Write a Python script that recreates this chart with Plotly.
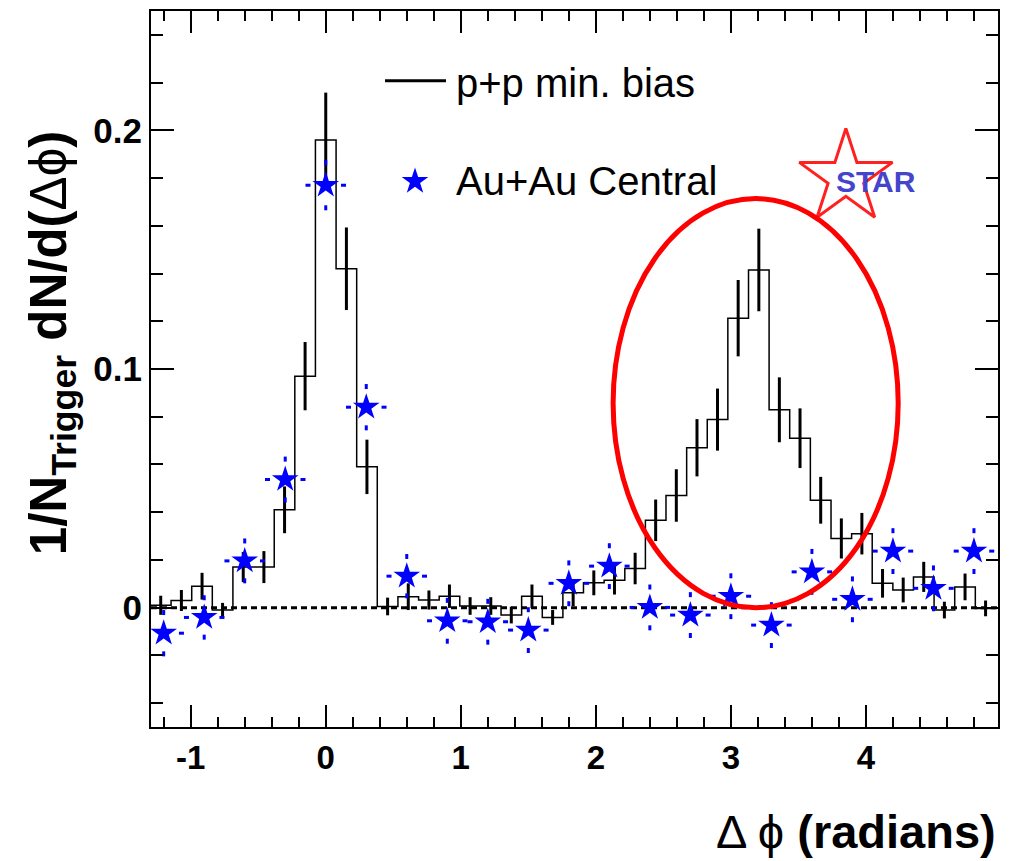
import plotly.graph_objects as go

# p+p minimum-bias azimuthal correlation histogram (bin centres, contents, errors)
BIN_WIDTH = 0.1527
pp_x = [-1.222, -1.069, -0.916, -0.764, -0.611, -0.458, -0.305, -0.153,
        0.000, 0.153, 0.305, 0.458, 0.611, 0.764, 0.916, 1.069, 1.222,
        1.374, 1.527, 1.680, 1.832, 1.985, 2.138, 2.291, 2.443, 2.596,
        2.749, 2.901, 3.054, 3.207, 3.359, 3.512, 3.665, 3.818, 3.970,
        4.123, 4.276, 4.428, 4.581, 4.734, 4.886]
pp_y = [0.001, 0.003, 0.009, -0.001, 0.017, 0.017, 0.041, 0.097,
        0.196, 0.142, 0.059, 0.0005, 0.0046, 0.0032, 0.0048, 0.0007, 0.0007,
        -0.0031, 0.0048, -0.0041, 0.0062, 0.0104, 0.0115, 0.0164, 0.0366, 0.047,
        0.067, 0.0788, 0.1213, 0.1415, 0.0829, 0.071, 0.045, 0.029, 0.031,
        0.0102, 0.0074, 0.0129, -0.001, 0.0087, -0.0003]
pp_err = [0.004, 0.0044, 0.0056, 0.003, 0.0063, 0.0067, 0.0098, 0.0143,
          0.0198, 0.0173, 0.0114, 0.0037, 0.0056, 0.004, 0.0049, 0.0037, 0.0037,
          0.0035, 0.0049, 0.0031, 0.0056, 0.0052, 0.006, 0.0066, 0.0087, 0.011,
          0.012, 0.013, 0.016, 0.0173, 0.0136, 0.0125, 0.0098, 0.0084, 0.0087,
          0.006, 0.0052, 0.0063, 0.0035, 0.0056, 0.0033]

# Au+Au central points
AU_HALF_BIN = 0.15
au_x = [-1.2, -0.9, -0.6, -0.3, 0.0, 0.3, 0.6, 0.9, 1.2, 1.5, 1.8,
        2.1, 2.4, 2.7, 3.0, 3.3, 3.6, 3.9, 4.2, 4.5, 4.8]
au_y = [-0.0107, -0.0041, 0.0196, 0.0537, 0.177, 0.084, 0.0132, -0.0055,
        -0.0059, -0.0094, 0.0102, 0.0174, 0.0001, -0.0031, 0.0048, -0.0073,
        0.015, 0.0035, 0.0237, 0.0081, 0.0237]
au_err = [0.0097, 0.0093, 0.0094, 0.0096, 0.0105, 0.0097, 0.0093, 0.0096,
          0.0096, 0.0096, 0.0096, 0.0096, 0.0096, 0.0096, 0.0096, 0.0096,
          0.0096, 0.0096, 0.0096, 0.0096, 0.0096]

X_RANGE = [-1.294, 4.978]
Y_RANGE = [-0.05, 0.25]
X_TICKS = [-1, 0, 1, 2, 3, 4]
X_TICKTEXT = ["-1", "0", "1", "2", "3", "4"]
Y_TICKS = [0, 0.1, 0.2]

# away-side highlight ellipse (data coordinates)
ELLIPSE = dict(x0=2.128, x1=4.239, y0=0.0, y1=0.1714)

REG = "Liberation Sans, Arial, sans-serif"

fig = go.Figure()

# histogram outline, extended by half a bin at both ends
step_x = [pp_x[0] - BIN_WIDTH / 2] + pp_x + [pp_x[-1] + BIN_WIDTH / 2]
step_y = [pp_y[0]] + pp_y + [pp_y[-1]]
fig.add_trace(go.Scatter(x=step_x, y=step_y, mode="lines", line_shape="hvh",
                         line=dict(color="black", width=1.5),
                         showlegend=False, hoverinfo="skip"))

# p+p statistical errors
fig.add_trace(go.Scatter(x=pp_x, y=pp_y, mode="markers",
                         marker=dict(size=1, color="rgba(0,0,0,0)"),
                         error_y=dict(type="data", array=pp_err, color="black",
                                      thickness=3, width=0),
                         showlegend=False, hoverinfo="skip"))

# dashed Au+Au error bars: each arm runs from its outer end toward the point
ex, ey = [], []
for x, y, e in zip(au_x, au_y, au_err):
    ex += [x, x, None, x, x, None]
    ey += [y + e, y, None, y - e, y, None]
    ex += [x - AU_HALF_BIN, x, None, x + AU_HALF_BIN, x, None]
    ey += [y, y, None, y, y, None]
fig.add_trace(go.Scatter(x=ex, y=ey, mode="lines",
                         line=dict(color="#0000ff", width=3, dash="5px,500px"),
                         showlegend=False, hoverinfo="skip"))

fig.add_trace(go.Scatter(x=au_x, y=au_y, mode="markers",
                         marker=dict(symbol="star", size=20, color="#0000ff",
                                     line=dict(width=0)),
                         showlegend=False))

# legend glyph and STAR logo on an overlay frame spanning the plot area
fig.add_trace(go.Scatter(x=[0.3117], y=[0.762], xaxis="x2", yaxis="y2",
                         mode="markers", cliponaxis=False,
                         marker=dict(symbol="star", size=20, color="#0000ff"),
                         showlegend=False, hoverinfo="skip"))
fig.add_trace(go.Scatter(x=[0.8204], y=[0.7674], xaxis="x2", yaxis="y2",
                         mode="markers", cliponaxis=False,
                         marker=dict(symbol="star-open", size=70, color="#ff2020",
                                     line=dict(color="#ff2020", width=3)),
                         showlegend=False, hoverinfo="skip"))

fig.add_shape(type="line", xref="x domain", yref="y", x0=0, x1=1, y0=0, y1=0,
              line=dict(color="black", width=3, dash="6px,4px"), layer="below")
fig.add_shape(type="circle", xref="x", yref="y", **ELLIPSE,
              line=dict(color="#ff0000", width=5))
fig.add_shape(type="line", xref="paper", yref="paper", x0=0.2763, x1=0.3483,
              y0=0.9025, y1=0.9025, line=dict(color="black", width=3))

fig.add_annotation(text="p+p min. bias", xref="paper", yref="paper",
                   x=0.3577, y=0.8997, xanchor="left", yanchor="middle",
                   showarrow=False, font=dict(family=REG, size=40, color="black"))
fig.add_annotation(text="Au+Au Central", xref="paper", yref="paper",
                   x=0.3577, y=0.762, xanchor="left", yanchor="middle",
                   showarrow=False, font=dict(family=REG, size=40, color="black"))
fig.add_annotation(text="<b>STAR</b>", xref="paper", yref="paper",
                   x=0.856, y=0.7624, xanchor="center", yanchor="middle",
                   showarrow=False, font=dict(family=REG, size=30, color="#4444cc"))

fig.add_annotation(text="<b>1/N<sub>Trigger</sub> dN/d(</b>Δϕ<b>)</b>",
                   xref="paper", yref="paper", x=-0.1169, y=0.536,
                   xanchor="center", yanchor="middle", textangle=-90,
                   showarrow=False, font=dict(family=REG, size=51, color="black"))
fig.add_annotation(text="Δ ϕ <b>(radians)</b>", xref="paper", yref="paper",
                   x=1.0, y=-0.146, xanchor="right", yanchor="middle",
                   showarrow=False, font=dict(family=REG, size=47, color="black"))

axis_common = dict(showline=True, linecolor="black", linewidth=2, mirror="ticks",
                   ticks="inside", tickcolor="black", tickwidth=2,
                   showgrid=False, zeroline=False)
fig.update_layout(
    width=1013, height=861,
    margin=dict(l=151, r=15, t=9, b=134),
    paper_bgcolor="white", plot_bgcolor="white",
    xaxis=dict(range=X_RANGE, tickvals=X_TICKS, ticktext=X_TICKTEXT, ticklen=22,
               tickfont=dict(family=REG, size=33, color="black", weight=700),
               minor=dict(dtick=0.2, ticks="inside", ticklen=10,
                          tickcolor="black", tickwidth=2),
               **axis_common),
    yaxis=dict(range=Y_RANGE, tickvals=Y_TICKS, ticklen=23,
               tickfont=dict(family=REG, size=35, color="black", weight=700),
               minor=dict(dtick=0.02, ticks="inside", ticklen=12,
                          tickcolor="black", tickwidth=2),
               **axis_common),
    xaxis2=dict(overlaying="x", range=[0, 1], visible=False),
    yaxis2=dict(overlaying="y", range=[0, 1], visible=False),
    showlegend=False,
)

fig.write_html("out.html")
